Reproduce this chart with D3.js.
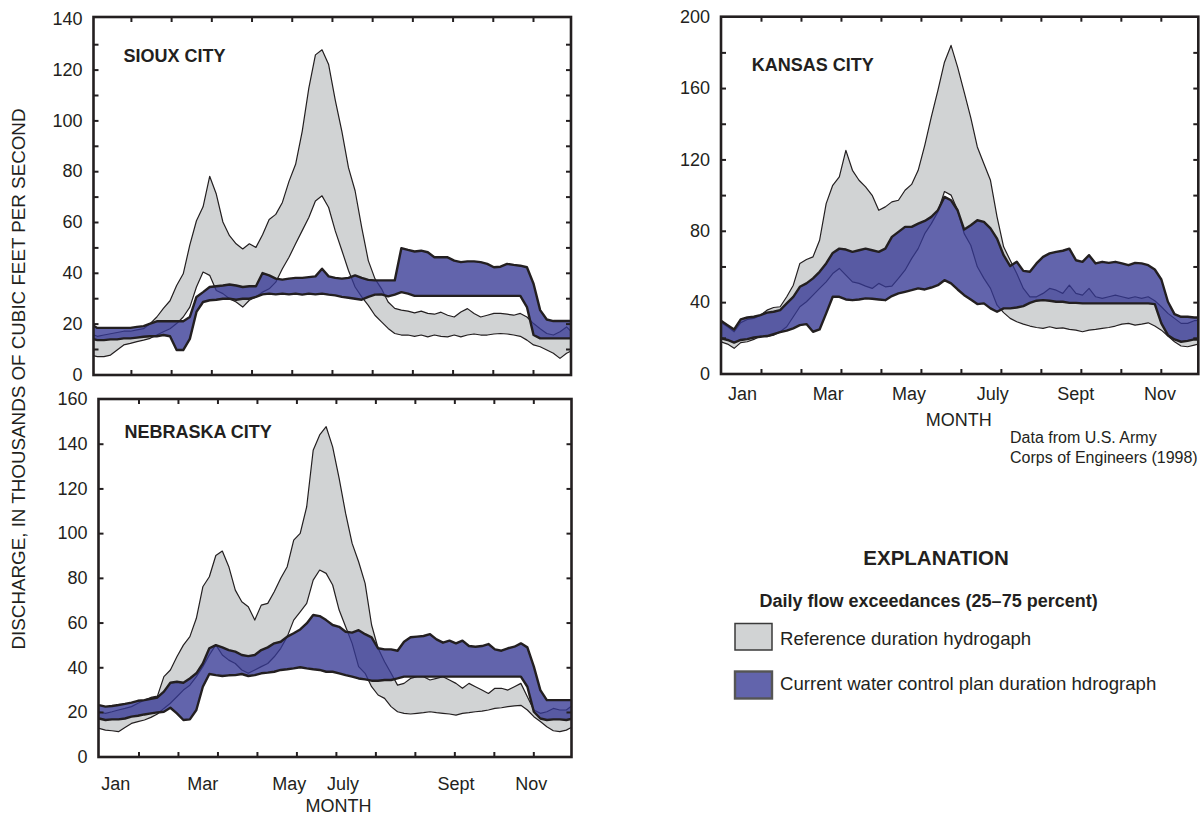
<!DOCTYPE html>
<html><head><meta charset="utf-8">
<script src="https://cdn.jsdelivr.net/npm/d3@7"></script>
<style>
body{margin:0;background:#fff;}
svg text{font-family:"Liberation Sans",Arial,Helvetica,sans-serif;fill:#231f20;}
</style></head><body>
<svg id="chart" width="1201" height="816"></svg>
<script>
// ---- DATA (thousands of cubic feet per second), sampled every 5 days from Jan 1 ----
const days = d3.range(0, 366, 5);
const monthLabels = ["Jan", "Mar", "May", "July", "Sept", "Nov"];

// Sioux City
const siouxRef75 = [16,15,15.5,16,16.5,17,17,17.5,18,20,
  22.6,26,29,35,39.6,51,60.5,66,78,71,
  60,54.6,51.4,49.4,51.4,50,55,61,63,67.7,
  76,82.7,95.7,112.7,125.8,127.8,122,108,95.7,81.4,
  72.3,57.9,44.8,37.7,33.7,28.5,26,25.3,24.9,24.2,
  24.9,24,23.7,24.5,23.3,22.6,24.6,25.9,24,22.6,
  23.3,24,24,23.7,23.3,24,22.6,20,18,16.1,
  15.5,16.8,18.7,16.1];
const siouxRef25 = [7.6,7,7,7.6,9.6,11.6,12.2,12.9,13.5,14.2,
  15.5,16.8,18,20,22.6,26.5,34.4,40.3,39,33,
  31.8,29.8,28.5,26.5,29.2,30.5,32.4,33.7,36.3,41.6,
  46.1,51.4,56.6,61.8,68.3,70.3,65.7,56.5,48.8,40.9,
  34.4,30.5,27.2,23.3,20.7,18.1,16.1,15.5,15.5,15,
  15.5,14.8,15.5,15,14.8,15.5,14.8,15.5,15.9,15.5,
  15.5,15.9,16.1,15.9,15.5,15,13.5,11.6,10.9,9.6,
  8.3,6.3,8.3,9.6];
const siouxCur75 = [19.8,18.3,18.3,18.3,18.3,18.3,18.3,18.7,19,20,
  20.9,20.9,20.9,20.9,20.9,22.6,30.5,32.4,34.4,34.7,
  35,35.4,35,34.4,34.7,34.7,39.9,39,37.7,37.3,
  37.7,38,38,38.3,38.6,41.6,38.6,38,37.7,38,
  39,38,37.2,37,37,37,37,49.7,49,48.4,
  48.7,48.1,46.1,46.1,46.1,44.8,44.2,44.5,44.5,44.2,
  43.5,42.2,42.4,43.5,43.1,42.8,42.2,35.7,25.3,21.6,
  21,21,21,21];
const siouxCur25 = [14.2,13.5,13.5,13.8,13.8,14.2,14.2,14.5,14.8,15,
  15,15.5,15,9.6,9.6,14,24.6,28.5,29.2,29.4,
  29.8,29.8,29.4,29.8,29.8,30.5,31.5,31.8,31.5,31.8,
  31.5,31.8,31.4,31.8,31.5,31.8,31.4,31.1,30.5,30.2,
  29.8,29.4,30.5,31.4,31.5,30.7,31.4,32.4,31.8,30.9,
  30.9,30.9,30.9,30.9,30.9,30.9,30.9,30.9,30.9,30.9,
  30.9,30.9,30.9,30.9,30.9,30.9,26.5,15.5,14.2,14.2,
  14.2,14.2,14.2,14.2];

// Nebraska City
const nebraskaRef75 = [20.1,19.4,20.1,20.9,21.6,22.4,23.9,25.3,26.5,27.1,
  35.8,38.8,44.7,49.9,53.7,61.9,76,80.5,90,92,
  85,74.5,69.3,67.1,61.1,67.8,68.6,73.8,79.8,85,
  96.9,99.9,111.8,137.1,143.9,147.6,138.6,124.5,108.8,95.4,
  87.2,77.5,58.9,48.5,42.5,37.3,32,32.8,35,35.8,
  35.8,34.3,35,35.8,34.3,32.8,30.6,32.8,31.3,29.8,
  28.3,30.6,30.6,29.8,31.3,32.8,26.8,20.9,19.4,20.1,
  21.6,20.9,20.9,23.1];
const nebraskaRef25 = [12.7,11.9,11.6,11.2,13.1,14.9,15.7,16.4,17.6,19.1,
  21.6,23.9,26.8,29.8,32,35.8,40.3,45.5,50,45.5,
  43.2,41.7,38.8,37.3,38.8,40.3,41.7,44.7,48.5,53.7,
  61.1,64.8,68.6,79,83.5,82,76.8,65.6,58.1,50.7,
  40.3,37.3,31.3,27.6,26.1,22.4,20.1,19.4,19.1,19.4,
  19.7,20.1,19.7,19.4,19.1,18.6,19.4,19.7,20.1,20.4,
  20.9,21.6,21.9,22.4,22.7,23,20.9,17.9,15.7,13.4,
  11.6,11.2,11.9,13.4];
const nebraskaCur75 = [23.1,22.4,22.7,23.1,23.6,24.2,25,25.3,25.9,26.5,
  29.1,33.1,33.5,33.1,35,37.3,41.7,48.5,49.9,48.9,
  47.7,47,45.5,45,45.5,47.7,48.9,50.7,51.4,53.7,
  55.2,56.9,59.6,63.4,62.9,61.1,58.9,58.1,55.9,55.5,
  56.6,54.8,53.4,48.5,48,48,47.4,51.4,53.4,53.7,
  54,54.8,52.5,51,51.9,50.7,51.9,49.5,49.2,49.5,
  50.4,48,47.4,48.5,49.2,50.7,48.9,40.3,29.8,25.3,
  25.3,25.3,25.3,25.3];
const nebraskaCur25 = [17.1,16.4,16.7,16.7,17.1,17.9,18.3,18.9,19.4,19.8,
  20.1,21.9,19.4,16.4,16.7,20.9,31.3,37,36.5,36.1,
  36.4,36.5,37,36.1,36.5,37.3,37.6,38,38.8,39.1,
  39.5,40,39.5,39.1,38.8,38,38,37.3,36.5,35.8,
  35,34.6,34,34,34.3,34.3,35,35.8,35.8,35.8,
  35.8,35.8,35.8,35.8,35.8,35.8,35.8,35.8,35.8,35.8,
  35.8,35.8,35.8,35.8,35.8,35.8,31.3,20.1,17.1,16.4,
  16.7,16.7,16.4,17.1];

// Kansas City
const kansasRef75 = [28.5,26.2,23.4,28.5,30.3,30.9,32.7,35.5,37,37.4,
  43,49.5,61.7,63.9,65.4,74.7,95.2,105.5,110.2,125.1,
  113.9,108.3,104.6,99.9,91.5,93.4,96.2,97.1,102.7,106,
  113.9,127.9,143.8,158.7,174.5,183.9,171.7,157.7,143.4,127,
  117.6,108.3,87.8,71,63.5,56,47.7,43,43,44.9,
  47.7,46.7,44.9,49.5,44.9,43.9,47.7,43,42.1,43,
  43.9,43,42.1,43,42.1,43,40.8,37.4,33.7,30.9,
  28.1,28.1,29.6,29.9];
const kansasRef25 = [17.8,16.5,14.1,17.3,17.8,19.1,21,20.6,21.5,23.4,
  26.2,31.8,37.4,40.2,43.9,47.7,51.4,56,58.9,55.1,
  51.4,50.5,49,47.7,50.5,48.6,49,53.3,57.9,64.4,
  70,78.4,84,90.6,102,100,91.5,78.4,71.9,59.8,
  53.3,47.7,38.3,34.1,30.9,29,27.7,26.6,25.8,25.3,
  26.2,25.3,25.6,24.7,24.3,23.4,24.3,24.7,25.3,25.8,
  26.6,27.7,28.1,27.1,27.7,28.4,26.6,24.3,21,17.8,
  15.4,15,15.9,16.8];
const kansasCur75 = [29.6,27.1,24.7,30.3,31.4,31.8,32.7,34.1,34.6,35.5,
  39.3,43,48.6,50.5,53.3,57,61.7,67.6,70,69.5,
  68.2,69.1,70,69.1,68.2,70,76.6,79.4,82.2,82.2,
  84,85.5,87.8,91.5,99,97.1,91.5,80.7,83.1,85.9,
  85,81.3,75.6,66.3,60.2,62.6,57.5,57,61.7,65.4,
  67.3,68.2,68.8,70,63.5,62.6,66.3,61.7,62.6,62,
  62.6,61.7,60.7,62,61.7,60.7,58.3,52.7,40.2,33.3,
  31.8,31.8,31.4,31.4];
const kansasCur25 = [19.7,18.8,17.3,18.8,19.3,20.2,20.6,21,22.1,23.2,
  24,25.3,27.1,27.7,23.4,24.7,33.7,43,43,41.5,
  41.1,41.5,42.1,41.9,41.5,41.1,43.4,44.9,45.8,46.7,
  47.7,47.1,48.2,49.5,52.3,50.5,47.1,43.9,41.5,38.9,
  39.3,36.5,34.6,36.5,36.5,37,37.8,39.6,40.8,41.1,
  40.8,40.2,40.2,39.6,39.6,39.3,39.3,39.3,39.3,39.3,
  39.3,39.3,39.3,39.3,39.3,39.3,38.9,28.1,21.5,19.1,
  17.8,18.3,19.1,19.1];

// ---- LAYOUT ----
const monthTicks = d3.range(1, 12).map(i => i * 365 / 12);
const panels = [
  {id:"sioux", title:"SIOUX CITY", titleX:123.5, titleY:62,
   xr:[90.7, 573.2], fx0:93.5, fx1:571, fy0:17, fy1:375,
   ymax:140, yr:[374.4, 18.8], tickStep:10, labelStep:20,
   r75:siouxRef75, r25:siouxRef25, c75:siouxCur75, c25:siouxCur25, months:null},
  {id:"nebraska", title:"NEBRASKA CITY", titleX:124.5, titleY:438,
   xr:[99, 572.8], fx0:98.5, fx1:571.5, fy0:399, fy1:757,
   ymax:160, yr:[756.7, 399], tickStep:20, labelStep:20,
   r75:nebraskaRef75, r25:nebraskaRef25, c75:nebraskaCur75, c25:nebraskaCur25,
   months:{days:[13,80,146.5,188,275,333], y:790, titleX:338.5, titleY:812}},
  {id:"kansas", title:"KANSAS CITY", titleX:751.7, titleY:71,
   xr:[721, 1200.8], fx0:721, fx1:1198.3, fy0:16.7, fy1:374,
   ymax:200, yr:[373.5, 16.7], tickStep:20, labelStep:40,
   r75:kansasRef75, r25:kansasRef25, c75:kansasCur75, c25:kansasCur25,
   months:{days:[16.4,81.5,143.1,206.7,269.9,334], y:400, titleX:958.8, titleY:426}}
];

const INK = "#231f20";
const GRAY = "#d1d3d4";
const BLUE = "#363895";
const BLUE_OP = 0.78;

const svg = d3.select("#chart");
const defs = svg.append("defs");

panels.forEach(p => {
  const x = d3.scaleLinear().domain([0, 365]).range(p.xr);
  const y = d3.scaleLinear().domain([0, p.ymax]).range(p.yr);
  const pts = days.map((d, i) => ({d, r75:p.r75[i], r25:p.r25[i], c75:p.c75[i], c25:p.c25[i]}));

  defs.append("clipPath").attr("id", "clip-" + p.id)
    .append("rect").attr("x", p.fx0).attr("y", p.fy0)
    .attr("width", p.fx1 - p.fx0).attr("height", p.fy1 - p.fy0);

  const g = svg.append("g");
  const plot = g.append("g").attr("clip-path", `url(#clip-${p.id})`);

  const refArea = d3.area().x(d => x(d.d)).y0(d => y(d.r25)).y1(d => y(d.r75));
  const curArea = d3.area().x(d => x(d.d)).y0(d => y(d.c25)).y1(d => y(d.c75));
  const line = key => d3.line().x(d => x(d.d)).y(d => y(d[key]));

  plot.append("path").datum(pts).attr("d", refArea).attr("fill", GRAY);
  ["r75", "r25"].forEach(k => plot.append("path").datum(pts).attr("d", line(k))
    .attr("fill", "none").attr("stroke", INK).attr("stroke-width", 1.2).attr("stroke-linejoin", "round"));
  plot.append("path").datum(pts).attr("d", curArea).attr("fill", BLUE).attr("fill-opacity", BLUE_OP);
  ["c75", "c25"].forEach(k => plot.append("path").datum(pts).attr("d", line(k))
    .attr("fill", "none").attr("stroke", INK).attr("stroke-width", 2.4).attr("stroke-linejoin", "round"));

  // ticks (inward, all four sides)
  const yTicks = d3.range(p.tickStep, p.ymax, p.tickStep);
  const styleTicks = sel => {
    sel.select(".domain").remove();
    sel.selectAll(".tick line").attr("stroke", INK).attr("stroke-width", 2);
  };
  g.append("g").attr("transform", `translate(${p.fx0},0)`)
    .call(d3.axisLeft(y).tickValues(yTicks).tickSize(-5).tickFormat("")).call(styleTicks);
  g.append("g").attr("transform", `translate(${p.fx1},0)`)
    .call(d3.axisRight(y).tickValues(yTicks).tickSize(-5).tickFormat("")).call(styleTicks);
  g.append("g").attr("transform", `translate(0,${p.fy1})`)
    .call(d3.axisBottom(x).tickValues(monthTicks).tickSize(-5).tickFormat("")).call(styleTicks);
  g.append("g").attr("transform", `translate(0,${p.fy0})`)
    .call(d3.axisTop(x).tickValues(monthTicks).tickSize(-5).tickFormat("")).call(styleTicks);

  // y labels
  const labAxis = g.append("g").attr("transform", `translate(${p.fx0 - 11},0)`)
    .call(d3.axisLeft(y).tickValues(d3.range(0, p.ymax + 1, p.labelStep)).tickSize(0).tickPadding(0));
  labAxis.select(".domain").remove();
  labAxis.selectAll("text").attr("font-size", 18).attr("fill", INK)
    .style("font-family", '"Liberation Sans",Arial,sans-serif');

  // frame
  g.append("rect").attr("x", p.fx0).attr("y", p.fy0)
    .attr("width", p.fx1 - p.fx0).attr("height", p.fy1 - p.fy0)
    .attr("fill", "none").attr("stroke", INK).attr("stroke-width", 2.6);

  // title
  g.append("text").attr("x", p.titleX).attr("y", p.titleY)
    .attr("font-size", 18).attr("font-weight", "bold").text(p.title);

  // month labels
  if (p.months) {
    g.selectAll(".ml").data(monthLabels).enter().append("text")
      .attr("x", (d, i) => x(p.months.days[i])).attr("y", p.months.y)
      .attr("text-anchor", "middle").attr("font-size", 18).text(d => d);
    g.append("text").attr("x", p.months.titleX).attr("y", p.months.titleY)
      .attr("text-anchor", "middle").attr("font-size", 18).text("MONTH");
  }
});

// y-axis title
svg.append("text").attr("transform", "translate(24.5,379) rotate(-90)")
  .attr("text-anchor", "middle").attr("font-size", 18.8)
  .text("DISCHARGE, IN THOUSANDS OF CUBIC FEET PER SECOND");

// source note
svg.append("text").attr("x", 1010).attr("y", 443).attr("font-size", 16).text("Data from U.S. Army");
svg.append("text").attr("x", 1010).attr("y", 462.5).attr("font-size", 16).text("Corps of Engineers (1998)");

// legend
svg.append("text").attr("x", 936).attr("y", 565).attr("text-anchor", "middle")
  .attr("font-size", 20.5).attr("font-weight", "bold").text("EXPLANATION");
svg.append("text").attr("x", 759.5).attr("y", 606.5)
  .attr("font-size", 18).attr("font-weight", "bold").text("Daily flow exceedances (25\u201375 percent)");
const legendItems = [
  {label:"Reference duration hydrogaph", fill:GRAY, op:1, stroke:"#3a3a3a", sw:1.5, y:623.5, h:26.5, ty:645},
  {label:"Current water control plan duration hdrograph", fill:BLUE, op:BLUE_OP, stroke:"#555555", sw:2.4, y:671.5, h:27, ty:690}
];
legendItems.forEach(it => {
  svg.append("rect").attr("x", 735).attr("y", it.y).attr("width", 37).attr("height", it.h)
    .attr("fill", it.fill).attr("fill-opacity", it.op).attr("stroke", it.stroke).attr("stroke-width", it.sw);
  svg.append("text").attr("x", 780).attr("y", it.ty).attr("font-size", 18.6).text(it.label);
});
</script>
</body></html>
